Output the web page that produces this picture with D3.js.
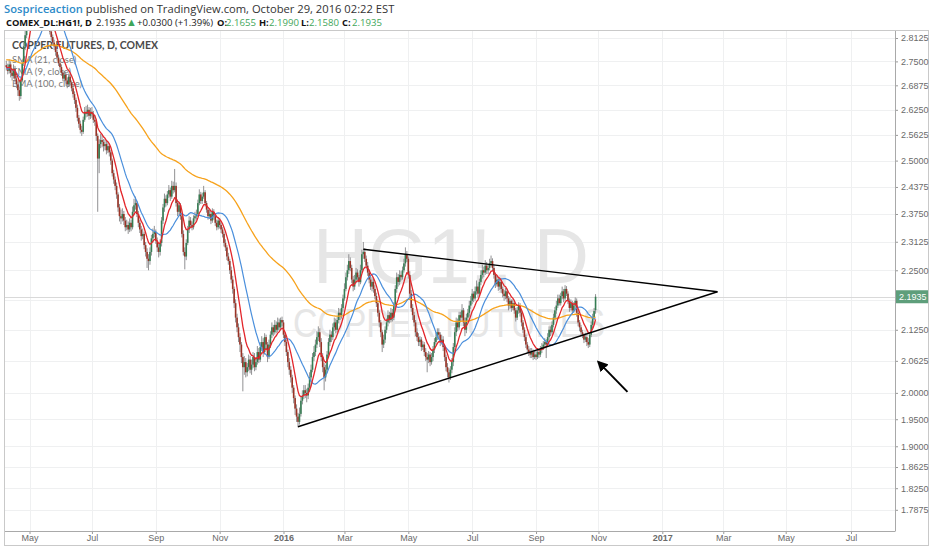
<!DOCTYPE html>
<html><head><meta charset="utf-8">
<script src="https://cdn.jsdelivr.net/npm/d3@7"></script>
<style>html,body{margin:0;padding:0;background:#fff;}svg{display:block;}</style>
</head><body>
<svg id="chart" width="932" height="550"></svg>
<script>
// ---------------- DATA ----------------
const startDate = "2015-04-09";          // first visible daily bar (weekdays follow)
const firstOpen = 2.740;
const closes = [
 2.735,2.725,2.742,2.720,2.712, 2.730,2.705,2.690,2.675,2.660,
 2.700,2.745,2.790,2.820,2.860, 2.900,2.910,2.940,2.960,2.930,
 2.950,2.920,2.930,2.900,2.915, 2.940,2.920,2.880,2.860,2.850,
 2.830,2.815,2.800,2.790,2.775, 2.760,2.745,2.735,2.720,2.705,
 2.715,2.700,2.690,2.710,2.695, 2.680,2.665,2.650,2.630,2.605,
 2.590,2.575,2.570,2.600,2.620, 2.615,2.625,2.610,2.620,2.615,
 2.600,2.595,2.560,2.505,2.540, 2.550,2.545,2.535,2.540,2.525,
 2.535,2.520,2.500,2.470,2.455, 2.440,2.420,2.390,2.370,2.365,
 2.375,2.360,2.345,2.350,2.340, 2.355,2.345,2.380,2.395,2.400,
 2.375,2.355,2.340,2.325,2.330, 2.305,2.290,2.275,2.270,2.290,
 2.320,2.330,2.335,2.315,2.300, 2.290,2.310,2.360,2.390,2.410,
 2.400,2.420,2.430,2.415,2.440, 2.430,2.440,2.400,2.380,2.395,
 2.370,2.330,2.290,2.280,2.310, 2.340,2.360,2.350,2.345,2.365,
 2.370,2.375,2.400,2.420,2.405, 2.415,2.425,2.400,2.385,2.370,
 2.375,2.360,2.380,2.370,2.355, 2.345,2.360,2.350,2.340,2.330,
 2.310,2.300,2.280,2.270,2.250, 2.230,2.210,2.180,2.150,2.130,
 2.110,2.095,2.070,2.050,2.060, 2.040,2.050,2.065,2.045,2.055,
 2.070,2.050,2.060,2.080,2.065, 2.090,2.100,2.080,2.110,2.095,
 2.070,2.095,2.115,2.130,2.120, 2.135,2.125,2.140,2.130,2.145,
 2.140,2.115,2.100,2.080,2.060, 2.045,2.030,2.010,1.990,1.970,
 1.955,1.945,1.960,1.985,1.995, 2.005,2.000,1.995,2.010,2.030,
 2.045,2.070,2.080,2.095,2.110, 2.120,2.100,2.070,2.050,2.030,
 2.045,2.075,2.100,2.115,2.110, 2.130,2.140,2.125,2.145,2.160,
 2.155,2.170,2.190,2.210,2.235, 2.250,2.270,2.255,2.230,2.215,
 2.230,2.245,2.235,2.225,2.250, 2.285,2.290,2.275,2.260,2.245,
 2.230,2.215,2.225,2.210,2.195, 2.180,2.160,2.140,2.120,2.095,
 2.105,2.125,2.140,2.155,2.145, 2.160,2.150,2.175,2.210,2.235,
 2.225,2.240,2.235,2.250,2.265, 2.285,2.275,2.240,2.200,2.170,
 2.155,2.140,2.120,2.110,2.100, 2.105,2.090,2.095,2.080,2.070,
 2.065,2.075,2.060,2.070,2.085, 2.100,2.110,2.120,2.115,2.100,
 2.105,2.090,2.070,2.050,2.040, 2.030,2.045,2.060,2.090,2.120,
 2.140,2.130,2.155,2.150,2.165, 2.140,2.125,2.150,2.160,2.175,
 2.185,2.200,2.190,2.205,2.215, 2.200,2.225,2.240,2.250,2.245,
 2.260,2.250,2.255,2.265,2.270, 2.255,2.240,2.220,2.230,2.215,
 2.225,2.210,2.200,2.195,2.205, 2.190,2.175,2.185,2.170,2.180,
 2.165,2.150,2.165,2.175,2.160, 2.140,2.125,2.110,2.095,2.085,
 2.080,2.075,2.080,2.070,2.075, 2.070,2.080,2.075,2.085,2.090,
 2.095,2.100,2.095,2.110,2.125, 2.120,2.135,2.150,2.165,2.175,
 2.190,2.180,2.195,2.205,2.190, 2.210,2.200,2.185,2.170,2.180,
 2.165,2.175,2.185,2.160,2.140, 2.130,2.120,2.115,2.105,2.110,
 2.100,2.095,2.115,2.135,2.150, 2.1635,2.1935
];
const highs = [
 2.752,2.744,2.755,2.750,2.731, 2.742,2.738,2.712,2.698,2.684,
 2.708,2.752,2.800,2.835,2.872, 2.912,2.925,2.952,2.975,2.968,
 2.962,2.958,2.942,2.938,2.925, 2.952,2.948,2.925,2.890,2.872,
 2.858,2.838,2.822,2.808,2.795, 2.782,2.768,2.755,2.742,2.728,
 2.725,2.722,2.708,2.718,2.716, 2.700,2.688,2.672,2.656,2.638,
 2.612,2.598,2.585,2.608,2.632, 2.635,2.638,2.632,2.630,2.632,
 2.622,2.612,2.600,2.566,2.552, 2.565,2.562,2.552,2.552,2.548,
 2.545,2.540,2.525,2.505,2.478, 2.462,2.448,2.425,2.398,2.385,
 2.388,2.382,2.368,2.362,2.358, 2.365,2.362,2.392,2.410,2.415,
 2.405,2.382,2.362,2.348,2.342, 2.335,2.312,2.298,2.285,2.300,
 2.328,2.342,2.348,2.340,2.322, 2.308,2.318,2.368,2.398,2.422,
 2.418,2.428,2.442,2.436,2.452, 2.450,2.480,2.448,2.408,2.402,
 2.400,2.375,2.338,2.300,2.318, 2.348,2.370,2.368,2.358,2.372,
 2.380,2.385,2.408,2.432,2.426, 2.424,2.440,2.430,2.405,2.390,
 2.385,2.382,2.388,2.386,2.375, 2.362,2.368,2.366,2.355,2.345,
 2.335,2.318,2.305,2.288,2.275, 2.258,2.238,2.215,2.188,2.158,
 2.138,2.118,2.100,2.078,2.072, 2.068,2.058,2.075,2.072,2.065,
 2.080,2.078,2.070,2.092,2.088, 2.100,2.112,2.108,2.118,2.115,
 2.100,2.105,2.122,2.140,2.135, 2.145,2.142,2.150,2.148,2.150,
 2.152,2.145,2.120,2.105,2.085, 2.068,2.052,2.035,2.015,1.995,
 1.978,1.962,1.972,1.992,2.005, 2.015,2.015,2.008,2.018,2.040,
 2.055,2.078,2.092,2.105,2.122, 2.132,2.128,2.108,2.078,2.058,
 2.055,2.082,2.108,2.125,2.122, 2.138,2.150,2.148,2.152,2.170,
 2.168,2.178,2.198,2.222,2.245, 2.262,2.285,2.278,2.262,2.238,
 2.240,2.255,2.252,2.240,2.262, 2.295,2.312,2.298,2.282,2.268,
 2.252,2.238,2.235,2.232,2.218, 2.202,2.188,2.165,2.145,2.125,
 2.115,2.132,2.148,2.165,2.162, 2.170,2.168,2.182,2.218,2.245,
 2.242,2.250,2.248,2.258,2.275, 2.300,2.292,2.280,2.248,2.208,
 2.178,2.162,2.145,2.128,2.118, 2.112,2.110,2.102,2.100,2.088,
 2.078,2.082,2.080,2.078,2.092, 2.108,2.120,2.128,2.128,2.120,
 2.115,2.112,2.095,2.075,2.058, 2.048,2.052,2.068,2.098,2.130,
 2.150,2.148,2.162,2.162,2.178, 2.170,2.150,2.158,2.168,2.185,
 2.195,2.210,2.205,2.215,2.228, 2.222,2.232,2.250,2.262,2.258,
 2.272,2.268,2.262,2.275,2.282, 2.276,2.262,2.245,2.238,2.235,
 2.232,2.230,2.215,2.208,2.212, 2.210,2.195,2.192,2.188,2.188,
 2.185,2.170,2.172,2.182,2.180, 2.165,2.145,2.130,2.115,2.100,
 2.092,2.088,2.088,2.085,2.082, 2.082,2.088,2.086,2.092,2.098,
 2.102,2.108,2.106,2.118,2.132, 2.132,2.142,2.158,2.172,2.185,
 2.198,2.198,2.202,2.215,2.210, 2.218,2.216,2.205,2.190,2.188,
 2.185,2.182,2.192,2.190,2.165, 2.145,2.135,2.125,2.118,2.118,
 2.115,2.108,2.120,2.142,2.158, 2.170,2.199
];
const lows = [
 2.726,2.716,2.718,2.708,2.700, 2.705,2.695,2.680,2.660,2.648,
 2.652,2.695,2.738,2.780,2.812, 2.850,2.885,2.900,2.930,2.920,
 2.922,2.910,2.908,2.890,2.892, 2.905,2.912,2.872,2.850,2.840,
 2.822,2.805,2.792,2.780,2.765, 2.752,2.738,2.726,2.712,2.698,
 2.698,2.692,2.680,2.684,2.688, 2.672,2.656,2.640,2.620,2.596,
 2.580,2.566,2.560,2.565,2.595, 2.606,2.608,2.600,2.602,2.605,
 2.592,2.585,2.548,2.380,2.470, 2.530,2.532,2.522,2.525,2.515,
 2.518,2.510,2.490,2.462,2.445, 2.430,2.410,2.380,2.358,2.352,
 2.358,2.350,2.336,2.338,2.330, 2.334,2.336,2.340,2.372,2.385,
 2.368,2.345,2.332,2.315,2.318, 2.296,2.280,2.255,2.250,2.262,
 2.282,2.310,2.322,2.308,2.290, 2.278,2.282,2.302,2.352,2.380,
 2.392,2.395,2.412,2.405,2.410, 2.422,2.425,2.392,2.370,2.372,
 2.362,2.322,2.282,2.252,2.272, 2.305,2.332,2.342,2.338,2.340,
 2.358,2.362,2.368,2.395,2.398, 2.398,2.410,2.392,2.378,2.362,
 2.365,2.352,2.355,2.362,2.348, 2.338,2.340,2.342,2.332,2.322,
 2.302,2.292,2.272,2.262,2.242, 2.222,2.200,2.170,2.140,2.120,
 2.100,2.080,2.058,2.003,2.035, 2.030,2.032,2.042,2.038,2.035,
 2.048,2.042,2.044,2.055,2.058, 2.060,2.082,2.070,2.075,2.086,
 2.060,2.066,2.088,2.108,2.112, 2.115,2.118,2.120,2.124,2.125,
 2.132,2.108,2.092,2.072,2.050, 2.035,2.020,2.000,1.980,1.958,
 1.945,1.935,1.940,1.955,1.978, 1.988,1.990,1.982,1.988,2.002,
 2.022,2.040,2.062,2.072,2.088, 2.102,2.090,2.062,2.040,2.005,
 2.022,2.038,2.068,2.092,2.100, 2.104,2.122,2.118,2.120,2.138,
 2.145,2.148,2.162,2.185,2.205, 2.228,2.242,2.248,2.222,2.205,
 2.208,2.222,2.228,2.215,2.220, 2.245,2.275,2.268,2.252,2.238,
 2.222,2.208,2.205,2.202,2.188, 2.172,2.152,2.130,2.110,2.080,
 2.088,2.098,2.118,2.132,2.138, 2.140,2.142,2.145,2.168,2.202,
 2.215,2.218,2.228,2.230,2.245, 2.258,2.268,2.232,2.192,2.162,
 2.145,2.132,2.112,2.102,2.092, 2.092,2.082,2.084,2.072,2.062,
 2.040,2.058,2.052,2.055,2.062, 2.078,2.095,2.104,2.108,2.092,
 2.095,2.082,2.062,2.042,2.030, 2.020,2.025,2.038,2.052,2.082,
 2.112,2.122,2.125,2.140,2.142, 2.132,2.112,2.118,2.142,2.152,
 2.168,2.178,2.182,2.185,2.198, 2.192,2.195,2.218,2.232,2.235,
 2.240,2.242,2.242,2.250,2.258, 2.248,2.232,2.212,2.215,2.206,
 2.208,2.202,2.192,2.185,2.188, 2.182,2.165,2.168,2.162,2.165,
 2.158,2.142,2.145,2.158,2.152, 2.132,2.118,2.102,2.088,2.078,
 2.072,2.068,2.068,2.064,2.066, 2.064,2.066,2.068,2.070,2.078,
 2.084,2.088,2.068,2.090,2.104, 2.112,2.115,2.130,2.145,2.158,
 2.170,2.175,2.175,2.188,2.182, 2.185,2.195,2.178,2.162,2.165,
 2.158,2.160,2.168,2.152,2.132, 2.122,2.112,2.108,2.098,2.100,
 2.092,2.088,2.090,2.110,2.128, 2.145,2.158
];
const lastBar = {open: 2.1655, high: 2.1990, low: 2.1580, close: 2.1935, change: "+0.0300", pct: "(+1.39%)"};
const ema100Seed = 2.755;   // EMA(100) level at the left edge
const priceLabels = [2.8125,2.75,2.6875,2.625,2.5625,2.5,2.4375,2.375,2.3125,2.25,2.125,2.0625,2.0,1.95,1.9,1.8625,1.825,1.7875];
const priceGrid = [2.8125,2.75,2.6875,2.625,2.5625,2.5,2.4375,2.375,2.3125,2.25,2.1875,2.125,2.0625,2.0,1.95,1.9,1.8625,1.825,1.7875];
const timeTicks = ["2015-05","2015-07","2015-09","2015-11","2016-01","2016-03","2016-05","2016-07","2016-09","2016-11","2017-01","2017-03","2017-05","2017-07"];
const upperTrend = [{date:"2016-03-18", price:2.296}, {date:"2017-02-23", price:2.204}];
const lowerTrend = [{date:"2016-01-15", price:1.936}, {date:"2017-02-23", price:2.204}];
const arrowPts  = [{date:"2016-11-29", price:2.002}, {date:"2016-11-01", price:2.060}];
const legendLines = ["SMA (21, close)", "EMA (9, close)", "EMA (100, close)"];

// ---------------- SETUP ----------------
const svg = d3.select("#chart");
const P = {left:5, right:895, top:31, bottom:531};
const parse = d3.utcParse("%Y-%m-%d");
const REF = Date.UTC(2015,0,5); // a Monday
const wd = d => { const days = Math.round((d - REF)/864e5); const w = Math.floor(days/7); const r = days - w*7; return w*5 + Math.min(r,5); };

const bars = [];
let cur = parse(startDate);
closes.forEach((c,i) => {
  while (cur.getUTCDay()===0 || cur.getUTCDay()===6) cur = new Date(+cur + 864e5);
  bars.push({date:cur, i:wd(cur), open: i===0 ? firstOpen : closes[i-1], high:highs[i], low:lows[i], close:c});
  cur = new Date(+cur + 864e5);
});
bars[bars.length-1].open = lastBar.open;

const x = d3.scaleLinear().domain([wd(parse("2015-05-01")), wd(parse("2017-07-03"))]).range([29.5, 851]);
const y = d3.scaleLog().domain([2.8125, 1.7875]).range([38, 509.8]);

// moving averages
const ema = (n, seed) => { const a = 2/(n+1); let v = seed; return bars.map(b => (v = a*b.close + (1-a)*v)); };
const ema9 = ema(9, bars[0].close);
const ema100 = ema(100, ema100Seed);
const sma21 = bars.map((b,i) => d3.mean(bars.slice(Math.max(0,i-20), i+1), d => d.close));

const defs = svg.append("defs");
defs.append("clipPath").attr("id","plotclip").append("rect")
  .attr("x",P.left).attr("y",P.top).attr("width",P.right-P.left).attr("height",P.bottom-P.top);
defs.append("marker").attr("id","arrowhead").attr("viewBox","0 0 10 10").attr("refX",8).attr("refY",5)
  .attr("markerWidth",11).attr("markerHeight",11).attr("markerUnits","userSpaceOnUse").attr("orient","auto")
  .append("path").attr("d","M0,0 L10,5 L0,10 z").attr("fill","#000");

// ---------------- FRAME / GRID ----------------
svg.append("rect").attr("x",4.5).attr("y",30.5).attr("width",924).attr("height",515)
  .attr("fill","#fff").attr("stroke","#c9c9c9");

const grid = svg.append("g").attr("clip-path","url(#plotclip)");
grid.selectAll("line.h").data(priceGrid).join("line")
  .attr("x1",P.left).attr("x2",P.right)
  .attr("y1",d=>Math.round(y(d))+0.5).attr("y2",d=>Math.round(y(d))+0.5)
  .attr("stroke","#eff0f1");
const tickIdx = timeTicks.map(t => wd(parse(t+"-01")));
grid.selectAll("line.v").data(tickIdx).join("line")
  .attr("y1",P.top).attr("y2",P.bottom)
  .attr("x1",d=>Math.round(x(d))+0.5).attr("x2",d=>Math.round(x(d))+0.5)
  .attr("stroke","#eff0f1");

// ---------------- WATERMARK ----------------
const wm = svg.append("g").attr("clip-path","url(#plotclip)").attr("fill","#e6e6e6")
  .style("font-family","'Liberation Sans', Arial, sans-serif");
wm.append("text").attr("x",451).attr("y",283).attr("text-anchor","middle")
  .attr("font-size",78).attr("textLength",276).attr("lengthAdjust","spacingAndGlyphs").text("HG1!, D");
wm.append("text").attr("x",449).attr("y",337).attr("text-anchor","middle")
  .attr("font-size",40).attr("textLength",312).attr("lengthAdjust","spacingAndGlyphs").text("COPPER FUTURES");

// ---------------- LEGEND (behind series) ----------------
const lg = svg.append("g").style("font-family","Lato, 'Open Sans', sans-serif");
lg.append("text").attr("x",12).attr("y",49).attr("font-size",10.5).attr("font-weight",700)
  .attr("fill","#4a4a4a").text("COPPER FUTURES, D, COMEX");
lg.selectAll("text.ma").data(legendLines).join("text").attr("class","ma")
  .attr("x",12).attr("y",(d,i)=>62.5+i*12).attr("font-size",9.5).attr("fill","#7a7a7a").text(d=>d);

// last price line
svg.append("line").attr("x1",P.left).attr("x2",P.right)
  .attr("y1",Math.round(y(lastBar.close))+0.5).attr("y2",Math.round(y(lastBar.close))+0.5)
  .attr("stroke","#d9d9d9");

// ---------------- CANDLES ----------------
const series = svg.append("g").attr("clip-path","url(#plotclip)");
const cg = series.append("g");
cg.selectAll("line.wick").data(bars).join("line").attr("class","wick")
  .attr("x1",d=>x(d.i)).attr("x2",d=>x(d.i))
  .attr("y1",d=>y(Math.max(d.high,d.open,d.close))).attr("y2",d=>y(Math.min(d.low,d.open,d.close)))
  .attr("stroke","#858587").attr("stroke-width",0.9);
cg.selectAll("rect.body").data(bars).join("rect").attr("class","body")
  .attr("x",d=>x(d.i)-0.8).attr("width",1.6)
  .attr("y",d=>y(Math.max(d.open,d.close)))
  .attr("height",d=>Math.max(1, Math.abs(y(d.open)-y(d.close))))
  .attr("fill",d=>d.close>=d.open ? "#367d53" : "#9a3326");

// ---------------- MOVING AVERAGES ----------------
const maLine = arr => d3.line().x((d,i)=>x(bars[i].i)).y(d=>y(d))(arr);
series.append("path").attr("d",maLine(ema100)).attr("fill","none").attr("stroke","#f7a21b").attr("stroke-width",1.3);
series.append("path").attr("d",maLine(sma21)).attr("fill","none").attr("stroke","#4a8fdc").attr("stroke-width",1.2);
series.append("path").attr("d",maLine(ema9)).attr("fill","none").attr("stroke","#e3262b").attr("stroke-width",1.3);

// ---------------- DRAWINGS ----------------
const tl = d3.line().x(d=>x(wd(parse(d.date)))).y(d=>y(d.price));
series.append("path").attr("d",tl(upperTrend)).attr("fill","none").attr("stroke","#000").attr("stroke-width",1.4);
series.append("path").attr("d",tl(lowerTrend)).attr("fill","none").attr("stroke","#000").attr("stroke-width",1.4);
series.append("path").attr("d",tl(arrowPts)).attr("fill","none").attr("stroke","#000").attr("stroke-width",2)
  .attr("marker-end","url(#arrowhead)");

// ---------------- AXES ----------------
const axisFont = "'Liberation Sans', Arial, sans-serif";
const yAxis = d3.axisRight(y).tickValues(priceLabels).tickFormat(d3.format(".4f")).tickSize(3).tickPadding(3).tickSizeOuter(0);
const ya = svg.append("g").attr("transform",`translate(${P.right},0)`).call(yAxis);
ya.select(".domain").remove();
ya.selectAll("line").attr("stroke","#999");
ya.selectAll("text").attr("fill","#6a6a6a").style("font-family",axisFont).attr("font-size",9);
svg.append("line").attr("x1",P.right+0.5).attr("x2",P.right+0.5).attr("y1",P.top).attr("y2",P.bottom).attr("stroke","#a9a9a9");

const fmtTick = d => { const dt = parse(d+"-01"); return dt.getUTCMonth()===0 ? d3.utcFormat("%Y")(dt) : d3.utcFormat("%b")(dt); };
const xAxis = d3.axisBottom(x).tickValues(tickIdx).tickFormat((d,i)=>fmtTick(timeTicks[i])).tickSize(3).tickPadding(1).tickSizeOuter(0);
const xa = svg.append("g").attr("transform",`translate(0,${P.bottom})`).call(xAxis);
xa.select(".domain").remove();
xa.selectAll("line").attr("stroke","#999");
xa.selectAll("text").attr("fill","#6a6a6a").style("font-family",axisFont).attr("font-size",9)
  .attr("font-weight",(d,i)=>timeTicks[i].endsWith("-01") ? 700 : 400);
svg.append("line").attr("x1",P.left).attr("x2",P.right+0.5).attr("y1",P.bottom+0.5).attr("y2",P.bottom+0.5).attr("stroke","#a9a9a9");

// last price label
const ly = y(lastBar.close);
svg.append("rect").attr("x",P.right+1).attr("y",ly-6.5).attr("width",32).attr("height",13).attr("fill","#5e9e7b");
svg.append("text").attr("x",P.right+4).attr("y",ly+3.2).attr("fill","#fff").attr("font-size",9)
  .style("font-family",axisFont).text(d3.format(".4f")(lastBar.close));

// ---------------- HEADER ----------------
const hf = "'Open Sans', sans-serif";
const h1 = svg.append("text").attr("x",4).attr("y",12.5).style("font-family",hf).attr("font-size",11.2);
h1.append("tspan").attr("fill","#2e8bc9").attr("font-weight",600).text("Sospriceaction");
h1.append("tspan").attr("fill","#333").text(" published on TradingView.com, October 29, 2016 02:22 EST");

const green = "#3fa65a";
const f4 = d3.format(".4f");
const hdr = [
  {t:"COMEX_DL:HG1!, D", x:6, w:700, c:"#111", s:9.3},
  {t:f4(lastBar.close), x:96, w:400, c:"#222", s:9.6},
  {t:"▲", x:126, w:400, c:green, s:11},
  {t:lastBar.change + " " + lastBar.pct, x:137, w:400, c:"#222", s:9.6},
  {t:"O:", x:217, w:700, c:"#111", s:9.3}, {t:f4(lastBar.open), x:226, w:400, c:green, s:9.6},
  {t:"H:", x:259, w:700, c:"#111", s:9.3}, {t:f4(lastBar.high), x:269, w:400, c:green, s:9.6},
  {t:"L:", x:301, w:700, c:"#111", s:9.3}, {t:f4(lastBar.low), x:309, w:400, c:green, s:9.6},
  {t:"C:", x:342, w:700, c:"#111", s:9.3}, {t:f4(lastBar.close), x:352, w:400, c:green, s:9.6}
];
svg.append("g").selectAll("text").data(hdr).join("text")
  .attr("x",d=>d.x).attr("y",26).style("font-family",hf).attr("font-size",d=>d.s)
  .attr("font-weight",d=>d.w).attr("fill",d=>d.c).text(d=>d.t);
</script>
</body></html>
